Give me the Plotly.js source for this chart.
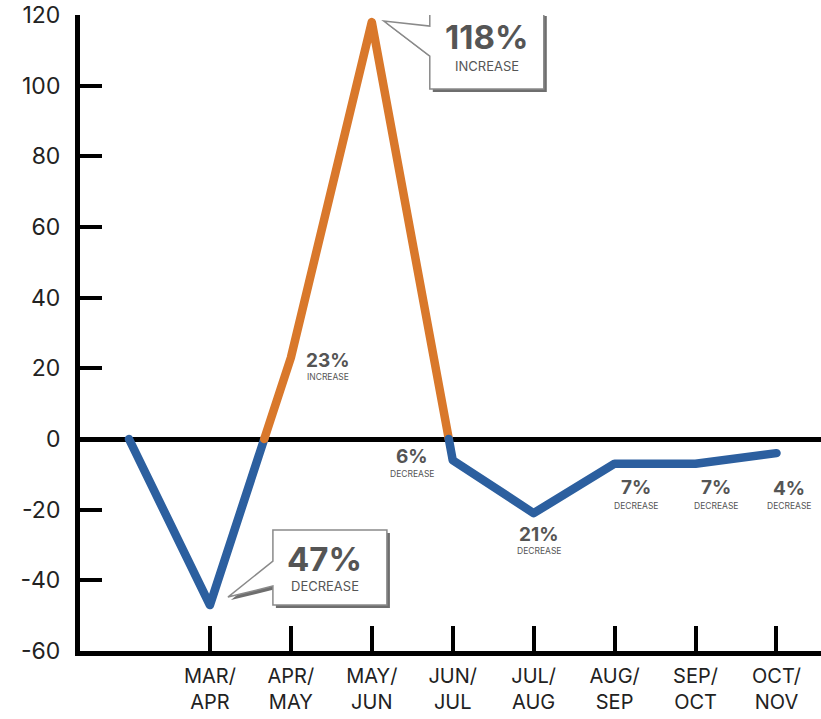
<!DOCTYPE html>
<html>
<head>
<meta charset="utf-8">
<script src="https://cdn.plot.ly/plotly-3.0.1.min.js"></script>
<style>
  html, body { margin: 0; padding: 0; background: #fff; }
  #chart { width: 821px; height: 719px; }
  .js-line { stroke-linecap: round; stroke-linejoin: round; }
</style>
</head>
<body>
<div id="chart"></div>
<script>
// ---- data ----
const periods = ['FEB/MAR', 'MAR/APR', 'APR/MAY', 'MAY/JUN', 'JUN/JUL', 'JUL/AUG', 'AUG/SEP', 'SEP/OCT', 'OCT/NOV'];
const tickLabels = ['', 'MAR/<br>APR', 'APR/<br>MAY', 'MAY/<br>JUN', 'JUN/<br>JUL', 'JUL/<br>AUG', 'AUG/<br>SEP', 'SEP/<br>OCT', 'OCT/<br>NOV'];
const changePct = [0, -47, 23, 118, -6, -21, -7, -7, -4];
const yTicks = [-60, -40, -20, 0, 20, 40, 60, 80, 100, 120];
const yTickText = ['-60', '-40', '-20', '0', '20', '40', '60', '80', '100', '120'];

const blue = '#2c5f9f';
const orange = '#d9782b';
const labelGray = '#555555';
const FONT = 'Inter, "Open Sans", sans-serif';

// ---- split line into sign-coloured runs (crossings derived from data) ----
const idx = changePct.map((_, i) => i);
let pts = [];
for (let i = 0; i < changePct.length; i++) {
  pts.push([idx[i], changePct[i]]);
  if (i < changePct.length - 1) {
    const a = changePct[i], b = changePct[i + 1];
    if (a * b < 0) {
      const t = a / (a - b);
      pts.push([idx[i] + t, 0]);
    }
  }
}
const traces = [];
let cur = null;
for (let k = 0; k < pts.length - 1; k++) {
  const mid = (pts[k][1] + pts[k + 1][1]) / 2;
  const col = mid >= 0 ? orange : blue;
  if (!cur || cur.col !== col) {
    cur = { col: col, x: [pts[k][0]], y: [pts[k][1]] };
    traces.push(cur);
  }
  cur.x.push(pts[k + 1][0]);
  cur.y.push(pts[k + 1][1]);
}
const data = traces.map(s => ({
  type: 'scatter', mode: 'lines', x: s.x, y: s.y,
  line: { color: s.col, width: 8.5 }, hoverinfo: 'skip', showlegend: false
}));

// ---- labels ----
const small = [
  { i: 2, dx: 37, dy1: -3, dy2: -19, word: 'INCREASE' },
  { i: 4, dx: -41, dy1: 4, dy2: -14, word: 'DECREASE' },
  { i: 5, dx: 5, dy1: -21, dy2: -38, word: 'DECREASE' },
  { i: 6, dx: 21, dy1: -24, dy2: -42, word: 'DECREASE' },
  { i: 7, dx: 20, dy1: -24, dy2: -42, word: 'DECREASE' },
  { i: 8, dx: 13, dy1: -35, dy2: -53, word: 'DECREASE' }
];
const annotations = [];
small.forEach(s => {
  const v = changePct[s.i];
  annotations.push({
    x: idx[s.i], y: v, xref: 'x', yref: 'y', showarrow: false,
    text: '<b>' + Math.abs(v) + '%</b>', xshift: s.dx, yshift: s.dy1,
    font: { family: FONT, size: 19, color: labelGray }
  });
  annotations.push({
    x: idx[s.i], y: v, xref: 'x', yref: 'y', showarrow: false,
    text: s.word, xshift: s.dx, yshift: s.dy2,
    font: { family: FONT, size: 8.5, color: labelGray }
  });
});
const big = [
  { i: 3, dx: 115, dy1: -15, dy2: -44, word: 'INCREASE' },
  { i: 1, dx: 115, dy1: 46, dy2: 19, word: 'DECREASE' }
];
big.forEach(s => {
  const v = changePct[s.i];
  annotations.push({
    x: idx[s.i], y: v, xref: 'x', yref: 'y', showarrow: false,
    text: '<b>' + Math.abs(v) + '%</b>', xshift: s.dx, yshift: s.dy1,
    font: { family: FONT, size: 33, color: labelGray }
  });
  annotations.push({
    x: idx[s.i], y: v, xref: 'x', yref: 'y', showarrow: false,
    text: s.word, xshift: s.dx, yshift: s.dy2,
    font: { family: FONT, size: 13, color: labelGray }
  });
});

// ---- speech-bubble callouts (pixel-sized, anchored to data points) ----
const bubble118 = 'M58,9 L172,9 L172,-67 L58,-67 L58,-34 L12,1 L58,-4 Z';
const bubble47 = 'M63,75 L177,75 L177,0 L63,0 L63,19 L18,8 L63,44 Z';
function shift(path, dx, dy) {
  return path.replace(/(-?\d+(?:\.\d+)?),(-?\d+(?:\.\d+)?)/g, (m, a, b) => (parseFloat(a) + dx) + ',' + (parseFloat(b) + dy));
}
const shapes = [];
[[3, bubble118], [1, bubble47]].forEach(([i, p]) => {
  shapes.push({
    type: 'path', xref: 'x', yref: 'y', xsizemode: 'pixel', ysizemode: 'pixel',
    xanchor: idx[i], yanchor: changePct[i], path: shift(p, 3, -3),
    fillcolor: '#6e6e6e', line: { width: 0 }, layer: 'above'
  });
  shapes.push({
    type: 'path', xref: 'x', yref: 'y', xsizemode: 'pixel', ysizemode: 'pixel',
    xanchor: idx[i], yanchor: changePct[i], path: p,
    fillcolor: '#ffffff', line: { color: '#8a8a8a', width: 1.5 }, layer: 'above'
  });
});

const layout = {
  width: 821, height: 719,
  margin: { l: 80, r: 0, t: 15, b: 68 },
  paper_bgcolor: '#ffffff', plot_bgcolor: '#ffffff',
  font: { family: FONT, color: '#222' },
  xaxis: {
    range: [-0.605, 8.55], showgrid: false, zeroline: false,
    tickmode: 'array', tickvals: idx.slice(1), ticktext: tickLabels.slice(1),
    ticks: 'inside', ticklen: 25, tickwidth: 4, tickcolor: '#000',
    showline: true, linecolor: '#000', linewidth: 5, ticklabelstandoff: 3,
    tickfont: { family: FONT, size: 20, color: '#222' }
  },
  yaxis: {
    range: [-60, 120], showgrid: false,
    zeroline: true, zerolinecolor: '#000', zerolinewidth: 5,
    tickmode: 'array', tickvals: yTicks, ticktext: yTickText,
    ticks: 'inside', ticklen: 22, tickwidth: 4, tickcolor: '#000',
    showline: true, linecolor: '#000', linewidth: 5, ticklabelstandoff: 10,
    tickfont: { family: FONT, size: 23, color: '#222' }
  },
  annotations: annotations,
  shapes: shapes,
  showlegend: false
};

Plotly.newPlot('chart', data, layout, { displayModeBar: false, staticPlot: true });
</script>
</body>
</html>
